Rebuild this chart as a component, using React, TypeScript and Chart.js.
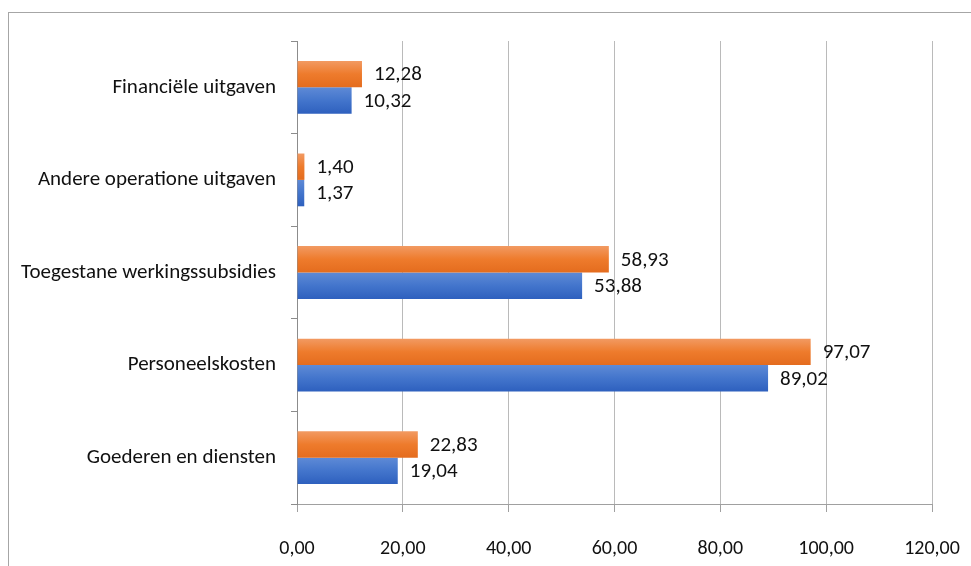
import React, { useEffect, useRef } from 'react';
import { Chart, registerables } from 'chart.js';

Chart.register(...registerables);

const categories = [
  'Financiële uitgaven',
  'Andere operatione uitgaven',
  'Toegestane werkingssubsidies',
  'Personeelskosten',
  'Goederen en diensten',
];
const seriesOrange = [12.28, 1.4, 58.93, 97.07, 22.83];
const seriesBlue = [10.32, 1.37, 53.88, 89.02, 19.04];
const xMin = 0;
const xMax = 120;
const xStep = 20;

const FONT = "Carlito, 'Liberation Sans Narrow', 'DejaVu Sans Condensed', 'Open Sans', sans-serif";
const fmt = (v: number) => v.toFixed(2).replace('.', ',');

const gradients: Record<number, [string, string, string]> = {
  0: ['#F29A62', '#EE7B2C', '#E46C1E'],
  1: ['#5E8AD6', '#4375CC', '#2E60BE'],
};

const gradientPlugin = {
  id: 'barGradient',
  beforeDatasetsDraw(chart: any) {
    const ctx = chart.ctx;
    chart.data.datasets.forEach((_: any, di: number) => {
      const meta = chart.getDatasetMeta(di);
      const cols = gradients[di];
      meta.data.forEach((el: any) => {
        const top = el.y - el.height / 2;
        const bot = el.y + el.height / 2;
        const g = ctx.createLinearGradient(0, top, 0, bot);
        g.addColorStop(0, cols[0]);
        g.addColorStop(0.5, cols[1]);
        g.addColorStop(1, cols[2]);
        el.options = Object.assign({}, el.options, { backgroundColor: g });
      });
    });
  },
};

const labelPlugin = {
  id: 'valueLabels',
  afterDatasetsDraw(chart: any) {
    const ctx = chart.ctx;
    ctx.save();
    ctx.font = `21px ${FONT}`;
    ctx.fillStyle = '#111';
    ctx.textAlign = 'left';
    ctx.textBaseline = 'middle';
    chart.data.datasets.forEach((ds: any, di: number) => {
      const meta = chart.getDatasetMeta(di);
      meta.data.forEach((el: any, i: number) => {
        ctx.fillText(fmt(ds.data[i]), el.x + 12, el.y + 1);
      });
    });
    ctx.restore();
  },
};

const framePlugin = {
  id: 'frame',
  beforeDraw(chart: any) {
    const ctx = chart.ctx;
    ctx.save();
    ctx.fillStyle = '#fff';
    ctx.fillRect(0, 0, chart.width, chart.height);
    ctx.strokeStyle = '#a6a6a6';
    ctx.lineWidth = 1;
    ctx.strokeRect(8.5, 12.5, 2000, 2000);
    ctx.restore();
  },
};

export default function App() {
  const ref = useRef<HTMLCanvasElement | null>(null);
  useEffect(() => {
    if (!ref.current) return;
    const chart = new Chart(ref.current, {
      type: 'bar',
      data: {
        labels: categories,
        datasets: [
          { label: 'Reeks 2', data: seriesOrange, backgroundColor: '#EE7B2C', categoryPercentage: 0.57, barPercentage: 1 },
          { label: 'Reeks 1', data: seriesBlue, backgroundColor: '#4375CC', categoryPercentage: 0.57, barPercentage: 1 },
        ],
      },
      options: {
        indexAxis: 'y',
        animation: false,
        responsive: false,
        devicePixelRatio: 1,
        layout: { padding: { top: 41, right: 39, left: 0, bottom: 0 } },
        plugins: { legend: { display: false }, tooltip: { enabled: false } },
        scales: {
          x: {
            min: xMin,
            max: xMax,
            ticks: {
              stepSize: xStep,
              callback: (v: any) => fmt(Number(v)),
              font: { family: FONT, size: 20 },
              color: '#111',
              padding: 25,
              maxRotation: 0,
            },
            grid: { color: '#bababa', tickColor: '#a0a0a0', tickLength: 8, lineWidth: 1 },
            border: { color: '#a0a0a0' },
            afterFit: (s: any) => { s.height = 62; s.paddingLeft = 0; s.paddingRight = 0; },
          },
          y: {
            ticks: { font: { family: FONT, size: 21 }, color: '#111', padding: 15 },
            grid: { drawOnChartArea: false, tickLength: 6, color: '#8c8c8c' },
            border: { color: '#8c8c8c' },
            afterFit: (s: any) => { s.width = 297; s.paddingTop = 0; s.paddingBottom = 0; },
          },
        },
      },
      plugins: [framePlugin, gradientPlugin, labelPlugin],
    });
    return () => chart.destroy();
  }, []);
  return (
    <div style={{ position: 'fixed', left: 0, top: 0, width: 971, height: 566, overflow: 'hidden', background: '#fff' }}>
      <canvas ref={ref} width={971} height={566} style={{ width: 971, height: 566, display: 'block' }} />
    </div>
  );
}
